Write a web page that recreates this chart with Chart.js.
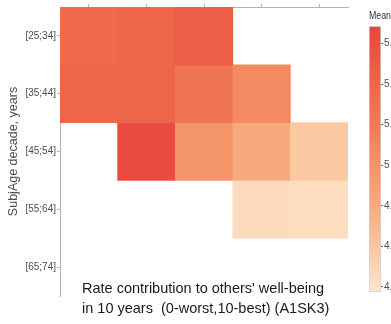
<!DOCTYPE html>
<html>
<head>
<meta charset="utf-8">
<script src="https://cdn.jsdelivr.net/npm/chart.js@4"></script>
<style>
body { margin: 0; overflow: hidden; background: #fff; font-family: "Liberation Sans", Arial, sans-serif; }
#wrap { position: relative; width: 391px; height: 324px; }
#heat { position: absolute; left: 0; top: 0; }
#bar { position: absolute; left: 369px; top: 0; }
#xtitle { position: absolute; left: 82px; top: 278px; font-size: 14.5px; line-height: 20px; color: #1a1a1a; white-space: nowrap; }
</style>
</head>
<body>
<div id="wrap">
  <canvas id="heat" width="391" height="324"></canvas>
  <canvas id="bar" width="22" height="324"></canvas>
  <div id="xtitle">Rate contribution to others' well-being<br>in 10 years&nbsp; (0-worst,10-best) (A1SK3)</div>
</div>
<script>
// rows (age decades) and columns (rating groups, labels not shown on the chart)
const ageRows = ['[25;34]', '[35;44]', '[45;54]', '[55;64]', '[65;74]'];
const rateCols = ['1', '2', '3', '4', '5'];

// mean value per cell, null = no data
const mean25 = [5.35, 5.41, 5.47, null, null];
const mean35 = [5.41, 5.40, 5.24, 5.08, null];
const mean45 = [null, 5.64, 4.98, 4.80, 4.58];
const mean55 = [null, null, null, 4.45, 4.44];
const mean65 = [null, null, null, null, null];
const meanRows = [mean25, mean35, mean45, mean55, mean65];

// colour bar
const cbTicks = [4.4, 4.6, 4.8, 5.0, 5.2, 5.4, 5.6];
const cbMin = 4.375;
const cbMax = 5.685;

const stopValues = [4.375, 4.6, 4.8, 5.0, 5.2, 5.4, 5.685];
const stopColors = [[254, 230, 206], [251, 198, 158], [247, 170, 126], [244, 148, 104], [241, 122, 86], [238, 102, 73], [233, 70, 61]];

Chart.defaults.font.family = '"Liberation Sans", Arial, sans-serif';

function colourFor(v) {
    let i = 0;
    while (i < stopValues.length - 2 && v > stopValues[i + 1]) i++;
    const t = Math.max(0, Math.min(1, (v - stopValues[i]) / (stopValues[i + 1] - stopValues[i])));
    const a = stopColors[i], b = stopColors[i + 1];
    const c = a.map((x, k) => Math.round(x + (b[k] - x) * t));
    return 'rgb(' + c.join(',') + ')';
}

const heatDatasets = meanRows.map((row, r) => ({
    label: ageRows[r],
    data: row.map(v => v == null ? null : [r - 0.5, r + 0.5]),
    backgroundColor: row.map(v => v == null ? 'rgba(0,0,0,0)' : colourFor(v)),
    borderWidth: 0,
    grouped: false,
    barPercentage: 1,
    categoryPercentage: 1
}));

const heatChart = new Chart(document.getElementById('heat'), {
    type: 'bar',
    data: { labels: rateCols, datasets: heatDatasets },
    options: {
        responsive: false,
        animation: false,
        layout: { padding: { top: 4, right: 43, bottom: 28, left: 0 } },
        plugins: { legend: { display: false }, tooltip: { enabled: false } },
        scales: {
            x: {
                position: 'top',
                ticks: { display: false },
                grid: { drawOnChartArea: false, offset: false, tickLength: 3, color: '#b3b3b3' },
                border: { color: '#b3b3b3' }
            },
            y: {
                type: 'linear',
                min: -0.5,
                max: 4.5,
                reverse: true,
                afterBuildTicks: s => { s.ticks = ageRows.map((_, i) => ({ value: i })); },
                afterFit: s => { s.width = 60; },
                ticks: { callback: v => ageRows[v], font: { size: 10 }, color: '#4d4d4d', padding: 1 },
                grid: { drawOnChartArea: false, tickLength: 3, color: '#b3b3b3' },
                border: { color: '#b3b3b3' },
                title: { display: true, text: 'SubjAge decade, years', font: { size: 12.5 }, color: '#4d4d4d', padding: { top: 6, bottom: 0 } }
            }
        }
    }
});

function barGradient(ctx) {
    const chart = ctx.chart;
    if (!chart.chartArea) return colourFor(cbMax);
    const ys = chart.scales.y;
    const g = chart.ctx.createLinearGradient(0, ys.getPixelForValue(cbMin), 0, ys.getPixelForValue(cbMax));
    stopValues.forEach((v, i) => g.addColorStop((v - cbMin) / (cbMax - cbMin), 'rgb(' + stopColors[i].join(',') + ')'));
    return g;
}

const barChart = new Chart(document.getElementById('bar'), {
    type: 'bar',
    data: {
        labels: [''],
        datasets: [{
            data: [[cbMin, cbMax]],
            backgroundColor: barGradient,
            borderColor: '#d0d0d0',
            borderWidth: 1,
            borderSkipped: false,
            barPercentage: 1,
            categoryPercentage: 1
        }]
    },
    options: {
        responsive: false,
        animation: false,
        layout: { padding: { top: 4, right: 0, bottom: 32, left: 0 } },
        plugins: {
            legend: { display: false },
            tooltip: { enabled: false },
            title: { display: true, text: 'Mean', align: 'start', font: { size: 11, weight: 'normal' }, color: '#333', padding: { top: 5, bottom: 4 } }
        },
        scales: {
            x: { display: false },
            y: {
                position: 'right',
                min: cbMin,
                max: cbMax,
                afterBuildTicks: s => { s.ticks = cbTicks.map(v => ({ value: v })); },
                afterFit: s => { s.width = 10; },
                ticks: { callback: v => String(v), font: { size: 10 }, color: '#4d4d4d', padding: 1 },
                grid: { drawOnChartArea: false, tickLength: 2, color: '#666' },
                border: { display: false }
            }
        }
    }
});
</script>
</body>
</html>
